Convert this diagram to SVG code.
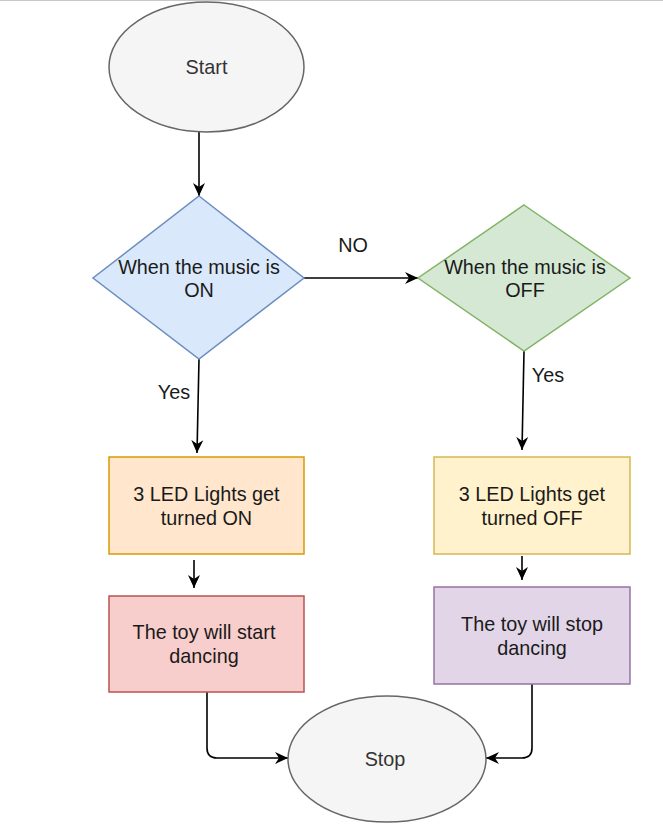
<svg xmlns="http://www.w3.org/2000/svg" width="663" height="837" viewBox="0 0 663 837">
<defs>
<marker id="arr" markerUnits="userSpaceOnUse" markerWidth="14" markerHeight="14" viewBox="0 0 14 14" refX="13" refY="7" orient="auto">
<path d="M0,1 L13,7 L0,13 L4,7 Z" fill="#000"/>
</marker>
<style>
.t{font-family:"Liberation Sans",Arial,sans-serif;font-size:19.8px;fill:#1a1a1a;text-anchor:middle;dominant-baseline:central}
.g{fill:#333333}
.c{fill:none;stroke:#000;stroke-width:1.6;marker-end:url(#arr)}
</style>
</defs>
<rect x="0" y="0" width="663" height="837" fill="#ffffff"/>
<line x1="0" y1="0.5" x2="663" y2="0.5" stroke="#c8c8c8" stroke-width="1"/>

<g id="connectors">
<path class="c" d="M199,132 L199,196"/>
<path class="c" d="M304,278 L418,278"/>
<path class="c" d="M199,359 L197,453"/>
<path class="c" d="M524,351 L522,450"/>
<path class="c" d="M194,560 L194,588"/>
<path class="c" d="M522,556 L522,580"/>
<path class="c" d="M207,692 L207,748 Q207,758 217,758 L288,758"/>
<path class="c" d="M532,684 L532,748 Q532,758 522,758 L486,758"/>
<text class="t" x="353" y="245" fill="#000">NO</text>
<text class="t" x="174" y="392">Yes</text>
<text class="t" x="548" y="375">Yes</text>
</g>

<g id="start">
<ellipse cx="206.5" cy="67" rx="97.5" ry="65" fill="#f5f5f5" stroke="#666666" stroke-width="1.5"/>
<text class="t g" x="206.5" y="67">Start</text>
</g>

<g id="decision-on">
<polygon points="199,196 304,278 199,359 93,278" fill="#dae8fc" stroke="#6c8ebf" stroke-width="1.5"/>
<text class="t" x="199" y="267">When the music is</text>
<text class="t" x="199" y="290">ON</text>
</g>

<g id="decision-off">
<polygon points="524,205 630,278 524,351 418,278" fill="#d5e8d4" stroke="#82b366" stroke-width="1.5"/>
<text class="t" x="525" y="267">When the music is</text>
<text class="t" x="525" y="290">OFF</text>
</g>

<g id="leds-on">
<rect x="109" y="457" width="195" height="97" fill="#ffe6cc" stroke="#d79b00" stroke-width="1.5"/>
<text class="t" x="206.5" y="494">3 LED Lights get</text>
<text class="t" x="206.5" y="518">turned ON</text>
</g>

<g id="leds-off">
<rect x="434" y="457" width="196" height="97" fill="#fff2cc" stroke="#d6b656" stroke-width="1.5"/>
<text class="t" x="532" y="494">3 LED Lights get</text>
<text class="t" x="532" y="518">turned OFF</text>
</g>

<g id="start-dancing">
<rect x="109" y="596" width="195" height="96" fill="#f8cecc" stroke="#b85450" stroke-width="1.5"/>
<text class="t" x="204" y="632">The toy will start</text>
<text class="t" x="204" y="656">dancing</text>
</g>

<g id="stop-dancing">
<rect x="434" y="587" width="196" height="97" fill="#e1d5e7" stroke="#9673a6" stroke-width="1.5"/>
<text class="t" x="532" y="624">The toy will stop</text>
<text class="t" x="532" y="648">dancing</text>
</g>

<g id="stop">
<ellipse cx="387" cy="759" rx="99" ry="63" fill="#f5f5f5" stroke="#666666" stroke-width="1.5"/>
<text class="t g" x="385" y="759">Stop</text>
</g>
</svg>
